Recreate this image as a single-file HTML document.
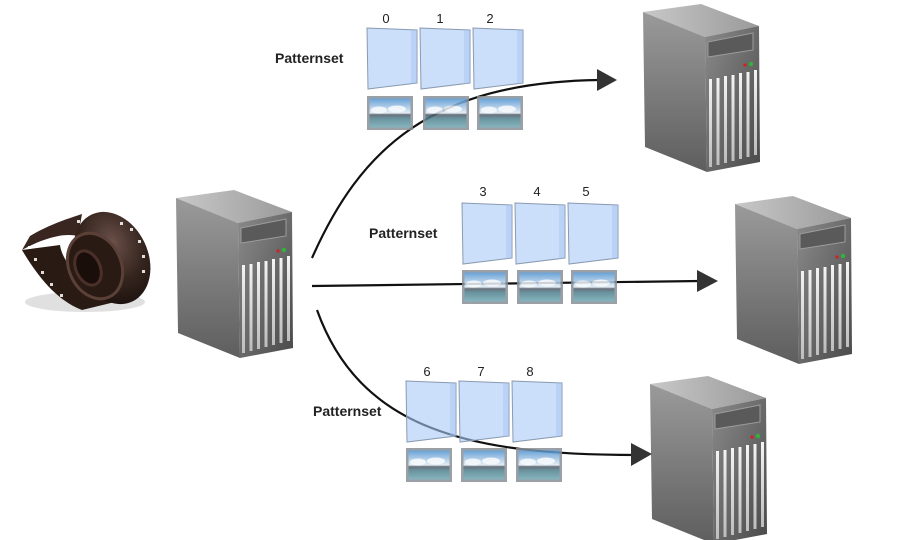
<!DOCTYPE html>
<html><head><meta charset="utf-8"><style>
html,body{margin:0;padding:0;background:#fff;width:906px;height:540px;overflow:hidden}
text{font-family:"Liberation Sans","DejaVu Sans",sans-serif}
</style></head><body>
<svg width="906" height="540" viewBox="0 0 906 540" xmlns="http://www.w3.org/2000/svg">
<defs>
<linearGradient id="gSide" x1="0" y1="0" x2="0" y2="1"><stop offset="0" stop-color="#9a9a9a"/><stop offset="1" stop-color="#5e5e5e"/></linearGradient>
<linearGradient id="gFront" x1="0" y1="0" x2="1" y2="1"><stop offset="0" stop-color="#8a8a8a"/><stop offset="1" stop-color="#4a4a4a"/></linearGradient>
<linearGradient id="gTop" x1="0" y1="0" x2="1" y2="0"><stop offset="0" stop-color="#c8c8c8"/><stop offset="1" stop-color="#9a9a9a"/></linearGradient>
<linearGradient id="gVent" x1="0" y1="0" x2="0" y2="1"><stop offset="0" stop-color="#f4f4f4"/><stop offset="1" stop-color="#bdbdbd"/></linearGradient>
<linearGradient id="gSky" x1="0" y1="0" x2="0" y2="1"><stop offset="0" stop-color="#4f92d0"/><stop offset="0.5" stop-color="#dfeaf4"/><stop offset="0.56" stop-color="#4e5866"/><stop offset="0.68" stop-color="#4f7f8c"/><stop offset="1" stop-color="#70a8b4"/></linearGradient>
<radialGradient id="gFilm" cx="0.6" cy="0.35" r="0.7"><stop offset="0" stop-color="#6a5048"/><stop offset="0.6" stop-color="#34241e"/><stop offset="1" stop-color="#1c120e"/></radialGradient>
<g id="srv">
 <polygon points="176,198 234,190 292,212 238,223" fill="url(#gTop)"/>
 <polygon points="176,198 238,223 240,358 178,333" fill="url(#gSide)"/>
 <polygon points="238,223 292,212 293,348 240,358" fill="url(#gFront)"/>
 <polygon points="241,228 286,219 286,236 241,243" fill="#5a5a5a" stroke="#9c9c9c" stroke-width="1"/>
 <circle cx="278" cy="251" r="1.6" fill="#d02020"/>
 <circle cx="284" cy="250" r="2.2" fill="#2fb33a"/>
 <g fill="url(#gVent)">
  <rect x="242" y="265" width="3" height="88"/><rect x="249.5" y="264" width="3" height="87"/>
  <rect x="257" y="262" width="3" height="87"/><rect x="264.5" y="261" width="3" height="86"/>
  <rect x="272" y="259" width="3" height="86"/><rect x="279.5" y="258" width="3" height="85"/>
  <rect x="287" y="256" width="3" height="85"/>
 </g>
</g>
<g id="frm">
 <polygon points="0,0 50,2 50,55 1,61" fill="#a9c9f8" fill-opacity="0.6" stroke="#8a9ab0" stroke-width="1"/>
 <polygon points="44,2 50,2 50,55 44,56" fill="#9dbff0" opacity="0.4"/>
</g>
<g id="thm" opacity="0.85">
 <rect x="0" y="0" width="46" height="34" fill="#8a9098"/>
 <rect x="2.5" y="2.5" width="41" height="29" fill="url(#gSky)"/>
 <ellipse cx="12" cy="14" rx="8" ry="3.5" fill="#f4f8fc" opacity="0.9"/><ellipse cx="30" cy="13" rx="9" ry="3.5" fill="#f4f8fc" opacity="0.9"/>
</g>
</defs>

<g>
 <ellipse cx="85" cy="302" rx="60" ry="10" fill="#000" opacity="0.12"/>
 <path d="M22,250 C40,240 62,232 78,236 L82,214 C70,218 50,224 30,236 Z" fill="#3a2620"/>
 <path d="M22,250 C35,272 55,300 82,310 L115,302 C85,290 62,262 60,245 Z" fill="#2a1a14"/>
 <ellipse cx="112" cy="258" rx="36" ry="48" transform="rotate(-25 112 258)" fill="url(#gFilm)"/>
 <ellipse cx="95" cy="266" rx="26" ry="34" transform="rotate(-25 95 266)" fill="#2a1a14" stroke="#5a4036" stroke-width="3"/>
 <ellipse cx="88" cy="268" rx="12" ry="18" transform="rotate(-25 88 268)" fill="#1a0e0a" stroke="#4a3028" stroke-width="3"/>
 <g fill="#fff" opacity="0.85">
  <rect x="28" y="246" width="3" height="3"/><rect x="34" y="258" width="3" height="3"/><rect x="41" y="271" width="3" height="3"/><rect x="50" y="283" width="3" height="3"/><rect x="60" y="294" width="3" height="3"/>
  <rect x="120" y="222" width="3" height="3"/><rect x="130" y="228" width="3" height="3"/><rect x="138" y="240" width="3" height="3"/><rect x="142" y="255" width="3" height="3"/><rect x="142" y="270" width="3" height="3"/><rect x="78" y="210" width="3" height="3"/><rect x="77" y="220" width="3" height="3"/>
 </g>
</g>

<use href="#srv"/>
<use href="#srv" transform="translate(467,-186)"/>
<use href="#srv" transform="translate(559,6)"/>
<use href="#srv" transform="translate(474,186)"/>

<g fill="none" stroke="#111" stroke-width="2.2">
 <path d="M312,258 C360,150 430,82 600,80"/>
 <path d="M312,286 L700,281"/>
 <path d="M317,310 C360,430 470,455 636,455"/>
</g>
<g fill="#333">
 <polygon points="597,69 617,80 597,91"/>
 <polygon points="697,270 718,281 697,292"/>
 <polygon points="631,443 652,454 631,466"/>
</g>

<g font-size="13" fill="#222" text-anchor="middle">
 <text x="386" y="23">0</text><text x="440" y="23">1</text><text x="490" y="23">2</text>
 <text x="483" y="196">3</text><text x="537" y="196">4</text><text x="586" y="196">5</text>
 <text x="427" y="376">6</text><text x="481" y="376">7</text><text x="530" y="376">8</text>
</g>
<g font-size="14" font-weight="bold" fill="#222">
 <text x="275" y="63">Patternset</text>
 <text x="369" y="238">Patternset</text>
 <text x="313" y="416">Patternset</text>
</g>
<use href="#frm" x="367" y="28"/><use href="#frm" x="420" y="28"/><use href="#frm" x="473" y="28"/>
<use href="#thm" x="367" y="96"/><use href="#thm" x="423" y="96"/><use href="#thm" x="477" y="96"/>
<use href="#frm" x="462" y="203"/><use href="#frm" x="515" y="203"/><use href="#frm" x="568" y="203"/>
<use href="#thm" x="462" y="270"/><use href="#thm" x="517" y="270"/><use href="#thm" x="571" y="270"/>
<use href="#frm" x="406" y="381"/><use href="#frm" x="459" y="381"/><use href="#frm" x="512" y="381"/>
<use href="#thm" x="406" y="448"/><use href="#thm" x="461" y="448"/><use href="#thm" x="516" y="448"/>
</svg>
</body></html>
